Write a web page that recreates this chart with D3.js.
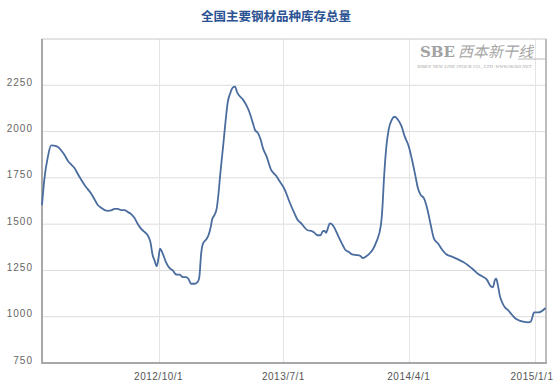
<!DOCTYPE html>
<html><head><meta charset="utf-8">
<script src="https://cdn.jsdelivr.net/npm/d3@7"></script>
<style>
html,body{margin:0;padding:0;background:#fff;}
svg{display:block;}
</style></head>
<body>
<svg id="chart" width="558" height="392"></svg>
<script>
const title = "全国主要钢材品种库存总量";
const dates = [
"2012-01-20","2012-01-25","2012-02-02","2012-02-09","2012-02-15","2012-02-24","2012-03-02","2012-03-09","2012-03-16","2012-03-24",
"2012-03-31","2012-04-07","2012-04-14","2012-04-22","2012-04-29","2012-05-06","2012-05-14","2012-05-21","2012-05-28","2012-06-05",
"2012-06-12","2012-06-19","2012-06-27","2012-07-04","2012-07-11","2012-07-18","2012-07-26","2012-08-02","2012-08-09","2012-08-17",
"2012-08-24","2012-08-31","2012-09-07","2012-09-13","2012-09-18","2012-09-22","2012-09-27","2012-10-01","2012-10-04","2012-10-10",
"2012-10-17","2012-10-25","2012-11-01","2012-11-08","2012-11-16","2012-11-23","2012-11-30","2012-12-05","2012-12-11","2012-12-19",
"2012-12-26","2012-12-29","2013-01-02","2013-01-06","2013-01-13","2013-01-18","2013-01-23","2013-01-26","2013-01-31","2013-02-05",
"2013-02-09","2013-02-13","2013-02-19","2013-02-24","2013-03-01","2013-03-07","2013-03-12","2013-03-17","2013-03-22","2013-03-27",
"2013-04-03","2013-04-11","2013-04-18","2013-04-25","2013-04-30","2013-05-06","2013-05-12","2013-05-17","2013-05-25","2013-06-04",
"2013-06-15","2013-06-23","2013-07-04","2013-07-14","2013-07-25","2013-07-31","2013-08-09","2013-08-16","2013-08-23","2013-08-31",
"2013-09-07","2013-09-13","2013-09-20","2013-09-25","2013-09-29","2013-10-02","2013-10-06","2013-10-10","2013-10-15","2013-10-21",
"2013-10-28","2013-11-04","2013-11-13","2013-11-21","2013-11-28","2013-12-07","2013-12-15","2013-12-22","2013-12-29","2014-01-05",
"2014-01-13","2014-01-20","2014-01-30","2014-02-02","2014-02-06","2014-02-11","2014-02-16","2014-02-23","2014-03-01","2014-03-08",
"2014-03-16","2014-03-23","2014-04-01","2014-04-08","2014-04-15","2014-04-21","2014-04-27","2014-05-04","2014-05-12","2014-05-19",
"2014-05-26","2014-06-04","2014-06-13","2014-06-22","2014-07-03","2014-07-14","2014-07-29","2014-08-09","2014-08-20","2014-08-30",
"2014-09-09","2014-09-19","2014-09-26","2014-10-02","2014-10-06","2014-10-09","2014-10-13","2014-10-17","2014-10-22","2014-10-28",
"2014-11-04","2014-11-11","2014-11-19","2014-11-26","2014-12-07","2014-12-18","2014-12-24","2014-12-27","2014-12-31","2015-01-09",
"2015-01-16","2015-01-25"
];
const values = [
1603,1739,1866,1925,1924,1917,1898,1875,1844,1821,
1803,1772,1743,1712,1689,1667,1634,1603,1589,1576,
1572,1574,1583,1582,1576,1576,1565,1554,1534,1498,
1474,1458,1440,1404,1332,1304,1273,1322,1368,1341,
1295,1262,1250,1228,1227,1214,1214,1205,1178,1178,
1190,1214,1341,1395,1417,1440,1485,1526,1549,1585,
1667,1776,1920,2047,2156,2210,2237,2243,2210,2192,
2174,2141,2102,2047,2007,1993,1957,1911,1866,1793,
1761,1730,1685,1621,1558,1526,1504,1482,1467,1464,
1453,1440,1440,1462,1464,1453,1477,1504,1500,1477,
1440,1404,1362,1349,1337,1333,1330,1317,1326,1341,
1366,1404,1495,1576,1757,1920,2011,2065,2080,2065,
2029,1974,1920,1848,1766,1694,1658,1640,1576,1495,
1422,1395,1362,1337,1326,1314,1295,1277,1255,1232,
1217,1199,1168,1159,1196,1205,1168,1114,1078,1051,
1036,1015,993,982,973,969,974,996,1023,1023,
1029,1047
];
const yTicks = [750,1000,1250,1500,1750,2000,2250];
const yDomain = [750,2500];
const xTickLabels = ["2012/10/1","2013/7/1","2014/4/1","2015/1/1"];
const xDomain = ["2012-01-20","2015-01-26"];

const svg = d3.select("#chart");
const W = 558, H = 392;
const m = {left:42, right:12, top:39, bottom:29};
const pw = W - m.left - m.right, ph = H - m.top - m.bottom;

const parseISO = d3.timeParse("%Y-%m-%d");
const parseTick = d3.timeParse("%Y/%-m/%-d");
const data = dates.map((d,i)=>({date:parseISO(d), value:values[i]}));

const x = d3.scaleTime().domain(xDomain.map(parseISO)).range([m.left, m.left+pw]);
const y = d3.scaleLinear().domain(yDomain).range([m.top+ph, m.top]);

// title
svg.append("text").attr("x",276).attr("y",21).attr("text-anchor","middle")
  .attr("font-family","'Noto Sans CJK SC', sans-serif").attr("font-weight","bold")
  .attr("font-size",12.5).attr("fill","#2b5292").text(title);

// gridlines horizontal
svg.append("g").selectAll("line").data(yTicks.filter(v=>v>yDomain[0])).join("line")
  .attr("x1",m.left).attr("x2",m.left+pw).attr("y1",d=>y(d)).attr("y2",d=>y(d))
  .attr("stroke","#dcdcdc").attr("stroke-width",1);
// vertical gridlines
const xTicks = xTickLabels.map(parseTick);
svg.append("g").selectAll("line").data(xTicks).join("line")
  .attr("x1",d=>Math.round(x(d))+0.5).attr("x2",d=>Math.round(x(d))+0.5).attr("y1",m.top).attr("y2",m.top+ph)
  .attr("stroke","#e4e4e4").attr("stroke-width",1);

// border
svg.append("rect").attr("x",m.left).attr("y",m.top).attr("width",pw).attr("height",ph)
  .attr("fill","none").attr("stroke","#c8c8c8").attr("stroke-width",1);
svg.append("line").attr("x1",m.left+pw).attr("x2",m.left+pw).attr("y1",m.top).attr("y2",m.top+ph)
  .attr("stroke","#bcbcbc").attr("stroke-width",2);
svg.append("line").attr("x1",m.left).attr("x2",m.left).attr("y1",m.top).attr("y2",m.top+ph+1)
  .attr("stroke","#a8a8a8").attr("stroke-width",2);
svg.append("line").attr("x1",m.left-1).attr("x2",m.left+pw+1).attr("y1",m.top+ph).attr("y2",m.top+ph)
  .attr("stroke","#a8a8a8").attr("stroke-width",2);

// logo watermark
const logo = svg.append("g");
logo.append("text").attr("x",420).attr("y",57).attr("font-family","'DejaVu Serif', serif")
  .attr("font-weight","bold").attr("font-size",15).attr("fill","#a2a2a2").text("SBE");
logo.append("text").attr("x",458).attr("y",57).attr("font-family","'Noto Sans CJK SC', sans-serif")
  .attr("font-style","italic").attr("font-size",15).attr("fill","#a6a6a6").text("西本新干线");
logo.append("text").attr("x",417).attr("y",68).attr("font-family","'Liberation Serif', serif")
  .attr("font-style","italic").attr("font-size",5).attr("fill","#a6a6a6").text("XIBEN NEW LINE STOCK CO., LTD.   WWW.96369.NET");
logo.append("line").attr("x1",518).attr("x2",546).attr("y1",59).attr("y2",59).attr("stroke","#b8b8b8").attr("stroke-width",1);

// y labels
svg.append("g").selectAll("text").data(yTicks).join("text")
  .attr("x",33).attr("y",d=>y(d)-3).attr("dy","0.35em").attr("text-anchor","end")
  .attr("font-family","'Liberation Sans', Arial, sans-serif").attr("font-size",10)
  .attr("letter-spacing","1px").attr("fill","#666").text(d=>d);

// x labels
svg.append("g").selectAll("text").data(xTicks).join("text")
  .attr("x",(d,i)=> i===xTicks.length-1 ? Math.min(x(d), W-26) : x(d)).attr("y",380).attr("text-anchor","middle")
  .attr("font-family","'Liberation Sans', Arial, sans-serif").attr("font-size",10)
  .attr("letter-spacing","0.5px").attr("fill","#555").text((d,i)=>xTickLabels[i]);

// line
const line = d3.line().x(d=>x(d.date)).y(d=>y(d.value)).curve(d3.curveMonotoneX);
svg.append("path").datum(data).attr("d",line).attr("fill","none")
  .attr("stroke","#4a6c9e").attr("stroke-width",1.8).attr("stroke-linejoin","round");
</script>
</body></html>
